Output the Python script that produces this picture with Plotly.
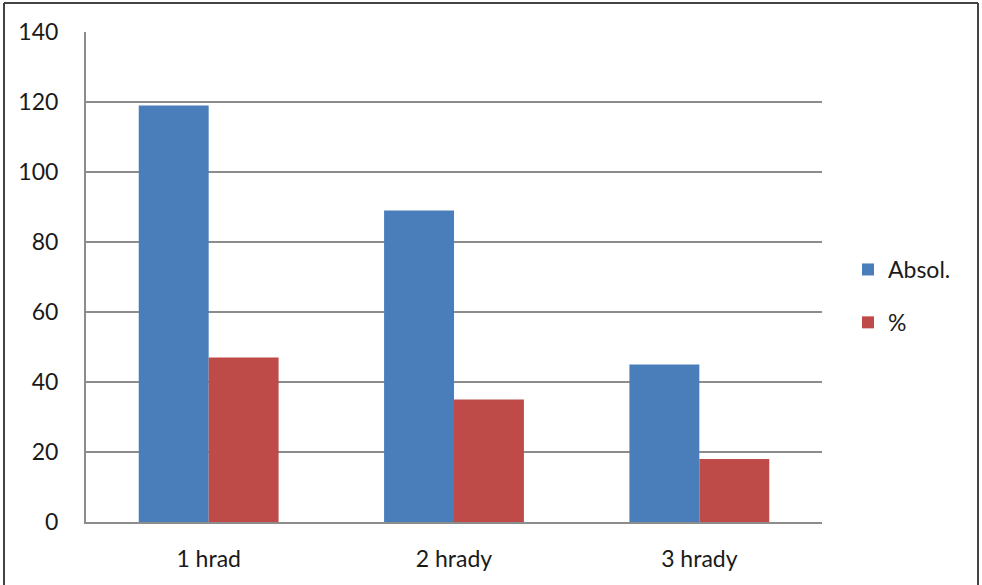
import plotly.graph_objects as go

categories = ["1 hrad", "2 hrady", "3 hrady"]
absol_values = [119, 89, 45]
pct_values = [47, 35, 18]
y_ticks = [0, 20, 40, 60, 80, 100, 120, 140]

W, H = 982, 585
L, R, T, B = 86, 160, 32, 63
pw = W - L - R
ph = H - T - B

def px_x(x):
    return (x - L) / pw

def px_y(y):
    return (H - B - y) / ph

fig = go.Figure()
fig.add_trace(go.Bar(x=categories, y=absol_values, name="Absol.",
                     marker=dict(color="#4a7ebb", line=dict(width=0)),
                     legendgroup="a"))
fig.add_trace(go.Bar(x=categories, y=pct_values, name="%",
                     marker=dict(color="#be4b48", line=dict(width=0)),
                     legendgroup="b"))

grid_color = "#8c8c8c"
text_color = "#1a1a1a"
fig.update_layout(
    width=W, height=H,
    margin=dict(l=L, r=R, t=T, b=B, pad=0),
    paper_bgcolor="white", plot_bgcolor="white",
    barmode="group", bargap=0.43, bargroupgap=0,
    font=dict(family="Lato, Open Sans, sans-serif", size=23, color=text_color),
    showlegend=True,
    legend=dict(x=px_x(848), y=px_y(296), xanchor="left", yanchor="middle",
                traceorder="grouped", tracegroupgap=20,
                font=dict(size=23, color=text_color),
                itemwidth=30, bgcolor="rgba(0,0,0,0)"),
    xaxis=dict(showgrid=False, showline=True, linecolor=grid_color, linewidth=2,
               ticks="", tickfont=dict(size=23), ticklabelstandoff=15,
               range=[-0.5, 2.5]),
    yaxis=dict(range=[0, 140], tickvals=y_ticks, showgrid=True,
               gridcolor=grid_color, gridwidth=2, showline=True,
               linecolor=grid_color, linewidth=2, zeroline=False,
               ticks="", tickfont=dict(size=23), ticklabelstandoff=21),
    shapes=[
        dict(type="line", xref="paper", yref="paper",
             x0=px_x(4), x1=px_x(4), y0=px_y(3), y1=px_y(600),
             line=dict(color="#444", width=2)),
        dict(type="line", xref="paper", yref="paper",
             x0=px_x(4), x1=px_x(978), y0=px_y(3), y1=px_y(3),
             line=dict(color="#444", width=2)),
        dict(type="line", xref="paper", yref="paper",
             x0=px_x(978), x1=px_x(978), y0=px_y(3), y1=px_y(600),
             line=dict(color="#444", width=2)),
    ],
)

fig.write_html("out.html")
